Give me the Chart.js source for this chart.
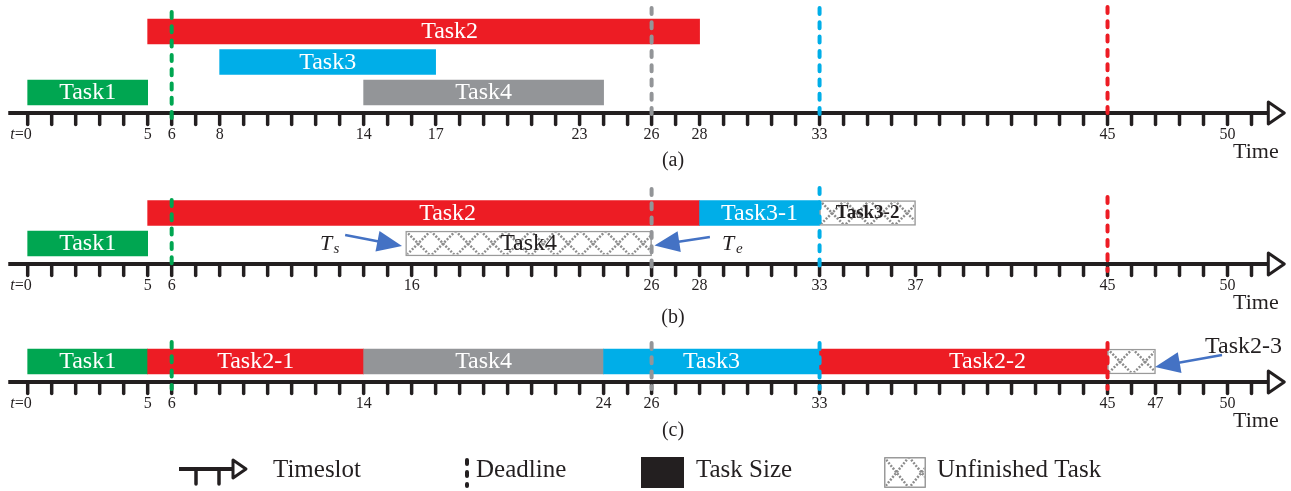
<!DOCTYPE html>
<html>
<head>
<meta charset="utf-8">
<title>Task scheduling timelines</title>
<script src="https://cdn.jsdelivr.net/npm/chart.js@4.4.0/dist/chart.umd.min.js"></script>
<style>
  html, body { margin: 0; padding: 0; background: #ffffff; }
  #wrap { width: 1291px; height: 491px; }
</style>
</head>
<body>
<div id="wrap"><canvas id="sched" width="1291" height="491"></canvas></div>
<script>
// ---------- schedule data (time in slots) ----------
// (a) tasks as released
const tasksA = ['Task1', 'Task2', 'Task3', 'Task4'];
const startA = [0, 5, 8, 14];
const endA   = [5, 28, 17, 24];
const laneA  = [1, 3, 2, 1];
const doneA  = [true, true, true, true];
const ticksA = [0, 5, 6, 8, 14, 17, 23, 26, 28, 33, 45, 50];

// (b) non-preemptive order
const tasksB = ['Task1', 'Task2', 'Task3-1', 'Task3-2', 'Task4'];
const startB = [0, 5, 28, 33, 15.75];
const endB   = [5, 28, 33, 37, 26];
const laneB  = [1, 2, 2, 2, 1];
const doneB  = [true, true, true, false, false];
const ticksB = [0, 5, 6, 16, 26, 28, 33, 37, 45, 50];

// (c) preemptive order
const tasksC = ['Task1', 'Task2-1', 'Task4', 'Task3', 'Task2-2', 'Task2-3'];
const startC = [0, 5, 14, 24, 33, 45];
const endC   = [5, 14, 24, 33, 45, 47];
const laneC  = [1, 1, 1, 1, 1, 1];
const doneC  = [true, true, true, true, true, false];
const ticksC = [0, 5, 6, 14, 24, 26, 33, 45, 47, 50];

// deadlines
const deadlineTask = ['Task1', 'Task4', 'Task3', 'Task2'];
const deadlineTime = [6, 26, 33, 45];

const lastSlot = 51;

// ---------- layout & style ----------
const W = 1291, H = 491;
const X_MIN = -1.154, X_MAX = 52.646;          // about 24 px per slot
const AXIS_START = -0.81, ARROW_BASE = 51.7;
const SERIF = "'Liberation Serif', 'Times New Roman', serif";
const INK = '#231f20';
const TASK_COLOR = { Task1: '#00a651', Task2: '#ed1c24', Task3: '#00aee8', Task4: '#939598' };
const HATCH = '#8c8c8c';
const ARROW_BLUE = '#4472c4';

const PANELS = [
  { key: 'a', axisY: 113, tops: [12, 8, 8, 7],       captionY: 161, labels: ticksA },
  { key: 'b', axisY: 264, tops: [200, 189, 188, 197], captionY: 318, labels: ticksB },
  { key: 'c', axisY: 382, tops: [342, 343, 343, 343], captionY: 431, labels: ticksC }
];
const LANE_OFFSET = [0, 20.5, 51, 81.5];
const LABEL_SHIFT = { a: { Task2: 26 }, b: { Task2: 24 }, c: { 'Task2-2': 24 } };
const BOLD_LABELS = ['Task3-2'];
const CAPTIONS = ['(a)', '(b)', '(c)'];

const baseTask = name => name.split('-')[0];

function barDataset(p, names, starts, ends, lanes, done) {
  const panel = PANELS[p];
  return {
    type: 'bar',
    indexAxis: 'y',
    grouped: false,
    order: 2,
    barThickness: 25,
    borderSkipped: false,
    panelKey: panel.key,
    data: names.map((n, i) => ({
      x: [starts[i], ends[i]],
      y: panel.axisY - LANE_OFFSET[lanes[i]],
      name: n,
      done: done[i]
    })),
    backgroundColor: names.map((n, i) => done[i] ? TASK_COLOR[baseTask(n)] : '#ffffff'),
    borderColor: names.map((n, i) => done[i] ? 'rgba(0,0,0,0)' : '#9a9a9a'),
    borderWidth: names.map((n, i) => done[i] ? 0 : 1.5)
  };
}

const barSets = [
  barDataset(0, tasksA, startA, endA, laneA, doneA),
  barDataset(1, tasksB, startB, endB, laneB, doneB),
  barDataset(2, tasksC, startC, endC, laneC, doneC)
];

const deadlineSets = [];
PANELS.forEach(panel => {
  deadlineTime.forEach((t, i) => {
    deadlineSets.push({
      type: 'line',
      order: 1,
      data: [{ x: t, y: panel.tops[i] }, { x: t, y: panel.axisY + 7 }],
      borderColor: TASK_COLOR[deadlineTask[i]],
      borderWidth: 4,
      borderDash: [6, 8.3],
      borderCapStyle: 'round',
      pointRadius: 0,
      fill: false
    });
  });
});

// arrows pointing at interval ends: x in slots, y in layout rows
const ARROWS = [
  { tail: [13.23, 235], tip: [15.6, 246] },
  { tail: [28.43, 237], tip: [26.12, 245.5] },
  { tail: [49.77, 355], tip: [46.98, 367] }
];

// ---------- drawing helpers ----------
function drawHatch(ctx, x, y, w, h) {
  ctx.save();
  ctx.beginPath();
  ctx.rect(x + 1.5, y + 1.5, w - 3, h - 3);
  ctx.clip();
  ctx.strokeStyle = HATCH;
  ctx.lineWidth = 2.5;
  ctx.setLineDash([2, 1.5]);
  const p = Math.min(h, 25);
  for (let k = x; k < x + w; k += p) {
    ctx.beginPath();
    ctx.moveTo(k, y); ctx.lineTo(k + p, y + h);
    ctx.moveTo(k + p, y); ctx.lineTo(k, y + h);
    ctx.stroke();
  }
  ctx.restore();
}

function drawArrow(ctx, x1, y1, x2, y2) {
  const ang = Math.atan2(y2 - y1, x2 - x1);
  const len = 25, half = 10.5;
  const bx = x2 - len * Math.cos(ang), by = y2 - len * Math.sin(ang);
  ctx.save();
  ctx.strokeStyle = ARROW_BLUE;
  ctx.fillStyle = ARROW_BLUE;
  ctx.lineWidth = 2.5;
  ctx.beginPath();
  ctx.moveTo(x1, y1);
  ctx.lineTo(bx + 4 * Math.cos(ang), by + 4 * Math.sin(ang));
  ctx.stroke();
  ctx.beginPath();
  ctx.moveTo(x2, y2);
  ctx.lineTo(bx - half * Math.sin(ang), by + half * Math.cos(ang));
  ctx.lineTo(bx + half * Math.sin(ang), by - half * Math.cos(ang));
  ctx.closePath();
  ctx.fill();
  ctx.restore();
}

function drawDeadlineMark(ctx, x, y1, y2) {
  ctx.save();
  ctx.strokeStyle = INK;
  ctx.lineWidth = 4;
  ctx.lineCap = 'round';
  ctx.setLineDash([4, 8]);
  ctx.beginPath();
  ctx.moveTo(x, y1); ctx.lineTo(x, y2);
  ctx.stroke();
  ctx.restore();
}

// time axes with slot ticks, labels and captions
const timelinePlugin = {
  id: 'timelines',
  beforeDatasetsDraw(chart) {
    const ctx = chart.ctx;
    const xs = chart.scales.x, ys = chart.scales.y;
    PANELS.forEach((panel, pi) => {
      const yA = ys.getPixelForValue(panel.axisY);
      const x0 = xs.getPixelForValue(AXIS_START);
      const xa = xs.getPixelForValue(ARROW_BASE);
      ctx.save();
      ctx.strokeStyle = INK;
      ctx.lineWidth = 4;
      ctx.beginPath();
      ctx.moveTo(x0, yA); ctx.lineTo(xa, yA);
      ctx.stroke();
      // slot ticks
      ctx.lineWidth = 3.5;
      ctx.lineCap = 'round';
      for (let t = 0; t <= lastSlot; t++) {
        const px = xs.getPixelForValue(t);
        ctx.beginPath();
        ctx.moveTo(px, yA); ctx.lineTo(px, yA + 11.5);
        ctx.stroke();
      }
      // arrow head
      ctx.lineCap = 'butt';
      ctx.lineJoin = 'round';
      ctx.lineWidth = 3;
      ctx.fillStyle = '#ffffff';
      ctx.beginPath();
      ctx.moveTo(xa, yA - 11);
      ctx.lineTo(xa + 16, yA);
      ctx.lineTo(xa, yA + 11);
      ctx.closePath();
      ctx.fill();
      ctx.stroke();
      // tick labels
      ctx.fillStyle = INK;
      ctx.textBaseline = 'middle';
      const ly = yA + 22;
      panel.labels.forEach(v => {
        const px = xs.getPixelForValue(v);
        ctx.font = `16px ${SERIF}`;
        ctx.textAlign = 'center';
        ctx.fillText(String(v), px, ly);
        if (v === 0) {
          const w0 = ctx.measureText('0').width;
          ctx.textAlign = 'right';
          ctx.fillText('=', px - w0 / 2, ly);
          const we = ctx.measureText('=').width;
          ctx.font = `italic 16px ${SERIF}`;
          ctx.fillText('t', px - w0 / 2 - we, ly);
        }
      });
      ctx.font = `22px ${SERIF}`;
      ctx.textAlign = 'left';
      ctx.fillText('Time', 1233, yA + 39);
      ctx.font = `20px ${SERIF}`;
      ctx.textAlign = 'center';
      ctx.fillText(CAPTIONS[pi], 673, ys.getPixelForValue(panel.captionY));
      ctx.restore();
    });
  },
  afterDatasetsDraw(chart) {
    const ctx = chart.ctx;
    const xs = chart.scales.x, ys = chart.scales.y;
    ARROWS.forEach(a => {
      drawArrow(ctx,
        xs.getPixelForValue(a.tail[0]), ys.getPixelForValue(a.tail[1]),
        xs.getPixelForValue(a.tip[0]), ys.getPixelForValue(a.tip[1]));
    });
    ctx.save();
    ctx.fillStyle = INK;
    ctx.textBaseline = 'alphabetic';
    ctx.textAlign = 'left';
    // T_s and T_e
    ctx.font = `italic 22px ${SERIF}`;
    ctx.fillText('T', 320, 250);
    ctx.fillText('T', 722, 250);
    ctx.font = `italic 15px ${SERIF}`;
    ctx.fillText('s', 333.5, 253);
    ctx.fillText('e', 736, 253);
    ctx.font = `24px ${SERIF}`;
    ctx.textBaseline = 'middle';
    ctx.fillText('Task2-3', 1205, 347);
    ctx.restore();
  }
};

// hatching and names inside task bars
const labelPlugin = {
  id: 'taskLabels',
  afterDatasetDraw(chart, args) {
    const meta = args.meta;
    if (meta.type !== 'bar') return;
    const ds = chart.data.datasets[args.index];
    const ctx = chart.ctx;
    const shifts = LABEL_SHIFT[ds.panelKey] || {};
    meta.data.forEach((el, i) => {
      const raw = ds.data[i];
      const { x, y, base, height } = el.getProps(['x', 'y', 'base', 'height'], true);
      const left = Math.min(x, base), right = Math.max(x, base);
      const top = y - height / 2;
      if (!raw.done) drawHatch(ctx, left, top, right - left, height);
      ctx.save();
      const bold = BOLD_LABELS.includes(raw.name);
      ctx.font = bold ? `bold 19px ${SERIF}` : `24px ${SERIF}`;
      const tw = ctx.measureText(raw.name).width;
      if (tw < right - left - 4) {
        ctx.fillStyle = raw.done ? '#ffffff' : INK;
        ctx.textAlign = 'center';
        ctx.textBaseline = 'middle';
        const cx = (left + right) / 2 + (shifts[raw.name] || 0);
        ctx.fillText(raw.name, cx, y + 0.5);
      }
      ctx.restore();
    });
  }
};

// legend row
const legendPlugin = {
  id: 'keyRow',
  afterDraw(chart) {
    const ctx = chart.ctx;
    const ly = 470;
    ctx.save();
    // timeslot symbol
    ctx.strokeStyle = INK;
    ctx.lineWidth = 4;
    ctx.beginPath(); ctx.moveTo(179, ly - 1); ctx.lineTo(233, ly - 1); ctx.stroke();
    ctx.lineWidth = 3.5; ctx.lineCap = 'round';
    [196, 219].forEach(x => { ctx.beginPath(); ctx.moveTo(x, ly - 1); ctx.lineTo(x, ly + 14); ctx.stroke(); });
    ctx.lineCap = 'butt'; ctx.lineJoin = 'round'; ctx.lineWidth = 3;
    ctx.fillStyle = '#ffffff';
    ctx.beginPath(); ctx.moveTo(233, ly - 10); ctx.lineTo(246, ly - 1); ctx.lineTo(233, ly + 8); ctx.closePath();
    ctx.fill(); ctx.stroke();
    // deadline symbol
    drawDeadlineMark(ctx, 467, 460, 486);
    // task size
    ctx.fillStyle = INK;
    ctx.fillRect(641, 457, 43, 31);
    // unfinished task
    ctx.fillStyle = '#ffffff';
    ctx.fillRect(884, 457, 42, 31);
    drawHatch(ctx, 884, 457, 42, 31);
    ctx.strokeStyle = '#9a9a9a'; ctx.lineWidth = 1.5;
    ctx.strokeRect(884.75, 457.75, 40.5, 29.5);
    // texts
    ctx.fillStyle = INK;
    ctx.font = `25px ${SERIF}`;
    ctx.textAlign = 'left';
    ctx.textBaseline = 'middle';
    ctx.fillText('Timeslot', 273, ly);
    ctx.fillText('Deadline', 476, ly);
    ctx.fillText('Task Size', 696, ly);
    ctx.fillText('Unfinished Task', 937, ly);
    ctx.restore();
  }
};

new Chart(document.getElementById('sched'), {
  type: 'bar',
  data: { datasets: [...barSets, ...deadlineSets] },
  options: {
    responsive: false,
    animation: false,
    devicePixelRatio: 1,
    events: [],
    layout: { padding: 0 },
    plugins: { legend: { display: false }, tooltip: { enabled: false } },
    scales: {
      x: { type: 'linear', min: X_MIN, max: X_MAX, display: false, offset: false },
      y: { type: 'linear', min: 0, max: H, reverse: true, display: false, offset: false }
    }
  },
  plugins: [timelinePlugin, labelPlugin, legendPlugin]
});
</script>
</body>
</html>
